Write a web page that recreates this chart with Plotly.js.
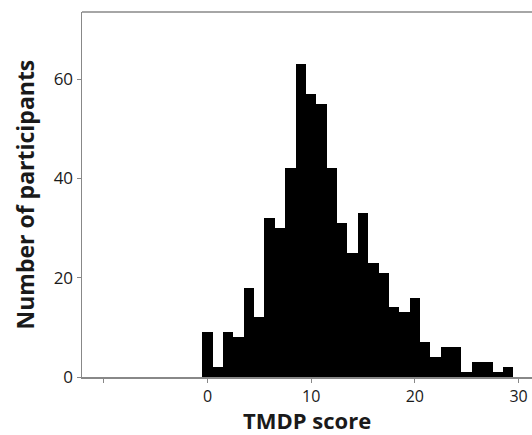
<!DOCTYPE html>
<html>
<head>
<meta charset="utf-8">
<script src="https://cdn.plot.ly/plotly-3.0.1.min.js"></script>
<style>html,body{margin:0;padding:0;background:#fff;}#chart{width:532px;height:435px;}</style>
</head>
<body>
<div id="chart"></div>
<script>
const scores = [0,1,2,3,4,5,6,7,8,9,10,11,12,13,14,15,16,17,18,19,20,21,22,23,24,25,26,27,28,29];
const participants = [9,2,9,8,18,12,32,30,42,63,57,55,42,31,25,33,23,21,14,13,16,7,4,6,6,1,3,3,1,2];
const xTickVals = [-10,0,10,20,30];
const xTickText = ['','0','10','20','30'];
const yTickVals = [0,20,40,60];
const xTitle = 'TMDP score';
const yTitle = 'Number of participants';

const trace = {
  type: 'bar',
  x: scores,
  y: participants,
  width: 1,
  marker: {color: '#000000', line: {width: 0}},
  hoverinfo: 'x+y'
};

const yTitleFont = {size: 23, color: '#1a1a1a', family: 'Open Sans, sans-serif', weight: 'bold'};
const xTitleFont = {size: 22, color: '#1a1a1a', family: 'Open Sans, sans-serif', weight: 'bold'};

const layout = {
  width: 532, height: 435,
  margin: {l: 82, r: 0, t: 12, b: 58},
  paper_bgcolor: '#ffffff', plot_bgcolor: '#ffffff',
  showlegend: false,
  bargap: 0,
  font: {family: 'Open Sans, sans-serif', color: '#1a1a1a'},
  xaxis: {
    range: [-12.1, 31.3],
    tickvals: xTickVals, ticktext: xTickText,
    ticks: 'outside', ticklen: 4, tickcolor: '#888', tickwidth: 1,
    showline: true, linecolor: '#888', linewidth: 1.5, mirror: false,
    showgrid: false, zeroline: false,
    tickfont: {size: 16, color: '#1a1a1a'}
  },
  yaxis: {
    range: [0, 73.5],
    tickvals: yTickVals,
    ticks: 'outside', ticklen: 4, tickcolor: '#888', tickwidth: 1,
    showline: true, linecolor: '#888', linewidth: 1.5,
    showgrid: false, zeroline: false,
    tickfont: {size: 17, color: '#1a1a1a'}
  },
  annotations: [
    {text: xTitle, xref: 'paper', yref: 'paper', x: 0.5, y: 0, xanchor: 'center', yanchor: 'middle', yshift: -43, borderpad: 0, showarrow: false, font: xTitleFont},
    {text: yTitle, xref: 'paper', yref: 'paper', x: 0, y: 0.5, xanchor: 'center', yanchor: 'middle', xshift: -58, textangle: -90, showarrow: false, font: yTitleFont}
  ],
  shapes: [{type: 'line', xref: 'paper', yref: 'paper', x0: 0, x1: 1, y0: 1, y1: 1, line: {color: '#888', width: 1.5}}]
};

Plotly.newPlot('chart', [trace], layout, {displayModeBar: false, staticPlot: true});
</script>
</body>
</html>
